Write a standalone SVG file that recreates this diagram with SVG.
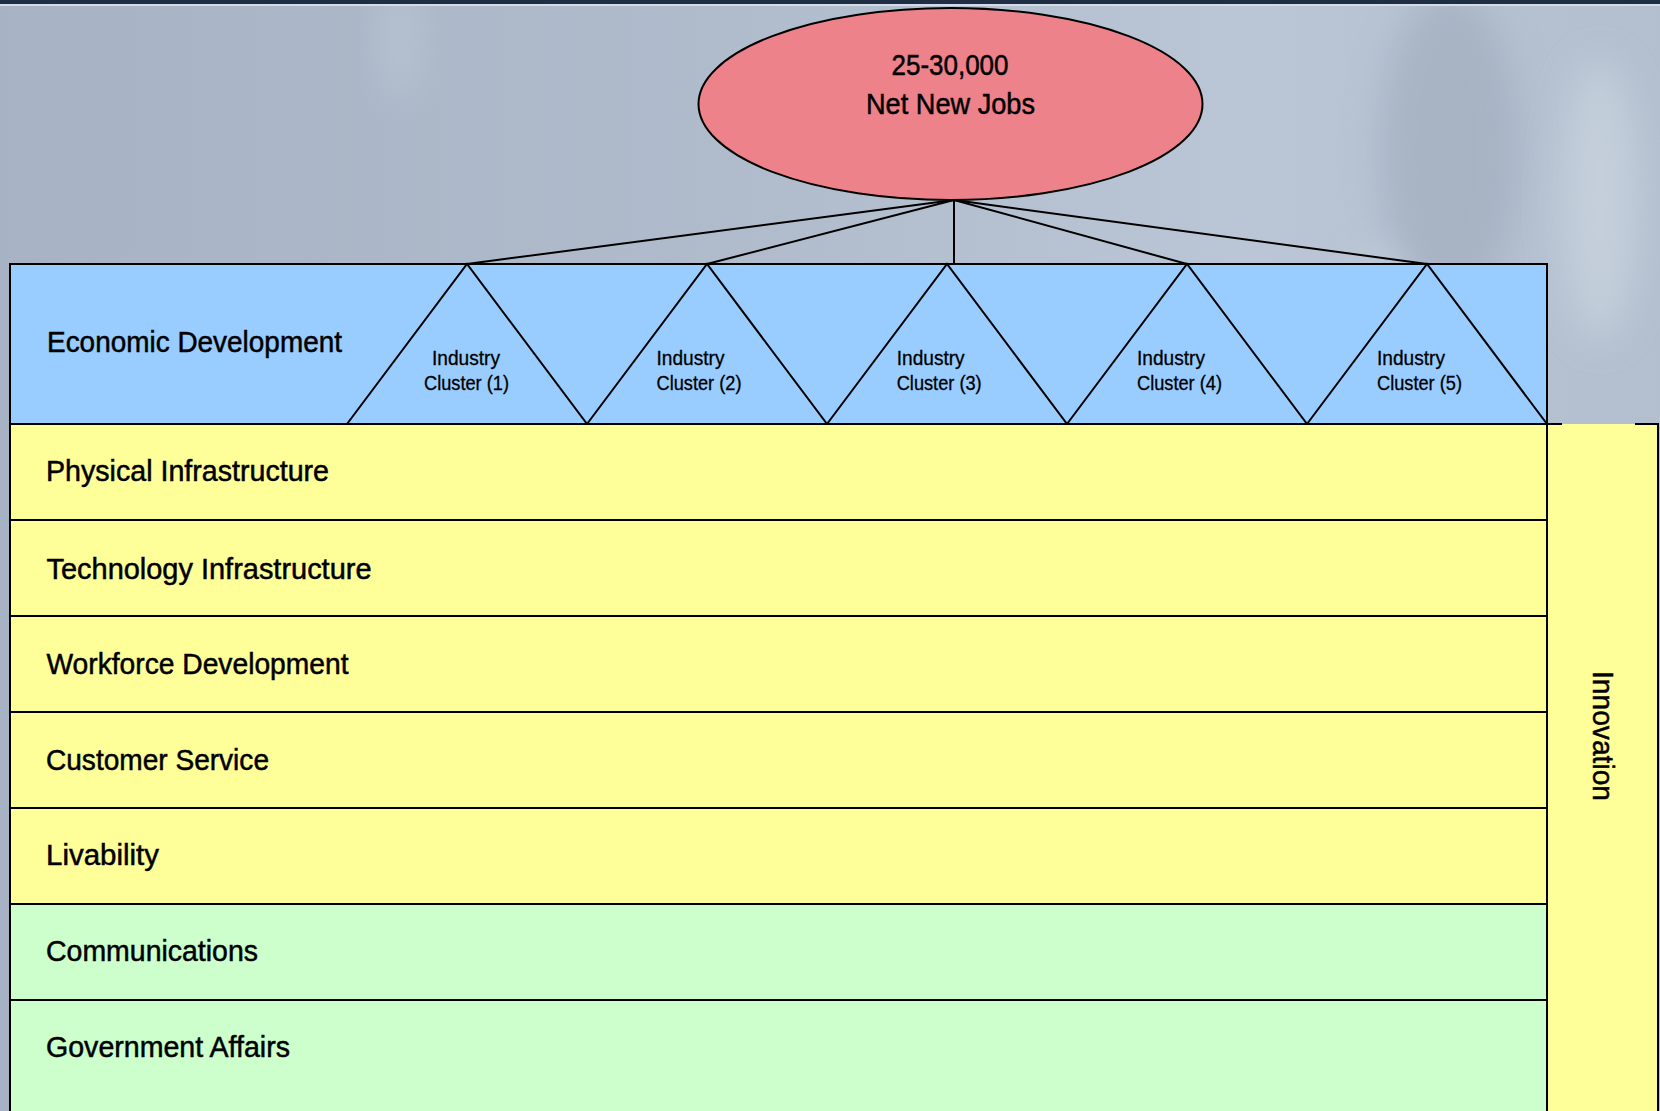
<svg xmlns="http://www.w3.org/2000/svg" width="1660" height="1111" viewBox="0 0 1660 1111">
<style>
.t{font-family:"Liberation Sans",Arial,sans-serif;fill:#000;stroke:#000}
.big{font-size:29px;stroke-width:0.5}
.small{font-size:20px;stroke-width:0.3}
.ln{stroke:#000;stroke-width:2;fill:none}
.tri{stroke:#000;stroke-width:2;fill:none;stroke-linejoin:miter}
.row{stroke:#000;stroke-width:2}
.y{fill:#FFFF99}
.g{fill:#CCFFCC}
.b{fill:#99CCFF}
</style>
<defs>
<linearGradient id="bg" x1="0" y1="0" x2="1" y2="0">
<stop offset="0" stop-color="#a7b2c4"/>
<stop offset="0.45" stop-color="#b0bccc"/>
<stop offset="0.75" stop-color="#bac6d5"/>
<stop offset="1" stop-color="#b3bfcf"/>
</linearGradient>
<filter id="blur" x="-50%" y="-50%" width="200%" height="200%"><feGaussianBlur stdDeviation="18"/></filter>
</defs>
<g id="background">
<rect x="0" y="0" width="1660" height="1111" fill="url(#bg)"/>
<ellipse cx="1450" cy="150" rx="70" ry="160" fill="#9aa5b6" filter="url(#blur)" opacity="0.5"/>
<ellipse cx="1600" cy="200" rx="40" ry="140" fill="#cfd8e3" filter="url(#blur)" opacity="0.6"/>
<ellipse cx="1380" cy="330" rx="30" ry="80" fill="#d2dbe6" filter="url(#blur)" opacity="0.5"/>
<ellipse cx="400" cy="40" rx="20" ry="60" fill="#c8d1dd" filter="url(#blur)" opacity="0.4"/>
<rect x="0" y="0" width="1660" height="4" fill="#1f2d45"/>
<rect x="0" y="4" width="1660" height="2" fill="#d3dbe6"/>
</g>
<g id="connectors">
<line class="ln" x1="954" y1="200" x2="467" y2="264"/>
<line class="ln" x1="954" y1="200" x2="707" y2="264"/>
<line class="ln" x1="954" y1="200" x2="954" y2="264"/>
<line class="ln" x1="954" y1="200" x2="1187" y2="264"/>
<line class="ln" x1="954" y1="200" x2="1427" y2="264"/>
</g>
<g id="jobs">
<ellipse cx="950.5" cy="104" rx="252" ry="96" fill="#EE828B" stroke="#000" stroke-width="2"/>
<text class="t big" x="950" y="75" text-anchor="middle" textLength="117" lengthAdjust="spacingAndGlyphs">25-30,000</text>
<text class="t big" x="950.5" y="114" text-anchor="middle" textLength="169" lengthAdjust="spacingAndGlyphs">Net New Jobs</text>
</g>
<g id="economic-development">
<rect class="row b" x="10" y="264" width="1537" height="160"/>
<text class="t big" x="47" y="352" textLength="295" lengthAdjust="spacingAndGlyphs">Economic Development</text>
</g>
<g id="cluster-1">
<polygon class="tri" points="347,424 467,264 587,424"/>
<text class="t small" x="466" y="365" text-anchor="middle" textLength="68" lengthAdjust="spacingAndGlyphs">Industry</text>
<text class="t small" x="466.5" y="390" text-anchor="middle" textLength="85" lengthAdjust="spacingAndGlyphs">Cluster (1)</text>
</g>
<g id="cluster-2">
<polygon class="tri" points="587,424 707,264 827,424"/>
<text class="t small" x="656.5" y="365" textLength="68" lengthAdjust="spacingAndGlyphs">Industry</text>
<text class="t small" x="656.5" y="390" textLength="85" lengthAdjust="spacingAndGlyphs">Cluster (2)</text>
</g>
<g id="cluster-3">
<polygon class="tri" points="827,424 947,264 1067,424"/>
<text class="t small" x="896.7" y="365" textLength="68" lengthAdjust="spacingAndGlyphs">Industry</text>
<text class="t small" x="896.7" y="390" textLength="85" lengthAdjust="spacingAndGlyphs">Cluster (3)</text>
</g>
<g id="cluster-4">
<polygon class="tri" points="1067,424 1187,264 1307,424"/>
<text class="t small" x="1137" y="365" textLength="68" lengthAdjust="spacingAndGlyphs">Industry</text>
<text class="t small" x="1137" y="390" textLength="85" lengthAdjust="spacingAndGlyphs">Cluster (4)</text>
</g>
<g id="cluster-5">
<polygon class="tri" points="1307,424 1427,264 1547,424"/>
<text class="t small" x="1377" y="365" textLength="68" lengthAdjust="spacingAndGlyphs">Industry</text>
<text class="t small" x="1377" y="390" textLength="85" lengthAdjust="spacingAndGlyphs">Cluster (5)</text>
</g>
<g id="physical-infrastructure">
<rect class="row y" x="10" y="424" width="1537" height="96"/>
<text class="t big" x="46" y="481" textLength="283" lengthAdjust="spacingAndGlyphs">Physical Infrastructure</text>
</g>
<g id="technology-infrastructure">
<rect class="row y" x="10" y="520" width="1537" height="96"/>
<text class="t big" x="46.5" y="579" textLength="325" lengthAdjust="spacingAndGlyphs">Technology Infrastructure</text>
</g>
<g id="workforce-development">
<rect class="row y" x="10" y="616" width="1537" height="96"/>
<text class="t big" x="46.5" y="674" textLength="302" lengthAdjust="spacingAndGlyphs">Workforce Development</text>
</g>
<g id="customer-service">
<rect class="row y" x="10" y="712" width="1537" height="96"/>
<text class="t big" x="46" y="770" textLength="223" lengthAdjust="spacingAndGlyphs">Customer Service</text>
</g>
<g id="livability">
<rect class="row y" x="10" y="808" width="1537" height="96"/>
<text class="t big" x="46" y="865" textLength="113" lengthAdjust="spacingAndGlyphs">Livability</text>
</g>
<g id="communications">
<rect class="row g" x="10" y="904" width="1537" height="96"/>
<text class="t big" x="46" y="961" textLength="212" lengthAdjust="spacingAndGlyphs">Communications</text>
</g>
<g id="government-affairs">
<rect class="row g" x="10" y="1000" width="1537" height="120"/>
<text class="t big" x="46" y="1057" textLength="244" lengthAdjust="spacingAndGlyphs">Government Affairs</text>
</g>
<g id="innovation">
<rect x="1547" y="424" width="111" height="700" fill="#FFFF99"/>
<path d="M1547,1111 V424 H1562 M1635,424 H1658 V1111" fill="none" stroke="#000" stroke-width="2"/>
<text class="t big" transform="translate(1593,736) rotate(90)" text-anchor="middle" textLength="130" lengthAdjust="spacingAndGlyphs">Innovation</text>
</g>
</svg>
